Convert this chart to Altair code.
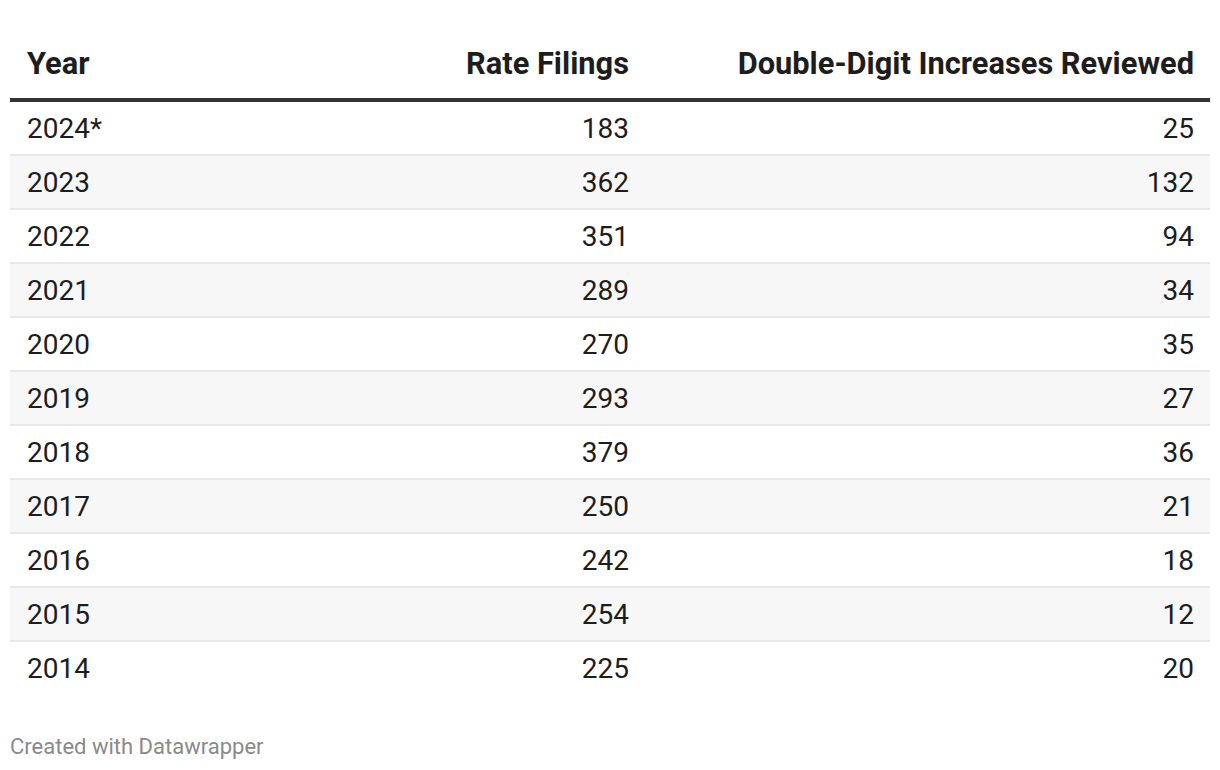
import altair as alt
import pandas as pd

years = ["2024*", "2023", "2022", "2021", "2020", "2019", "2018", "2017", "2016", "2015", "2014"]
rate_filings = [183, 362, 351, 289, 270, 293, 379, 250, 242, 254, 225]
double_digit = [25, 132, 94, 34, 35, 27, 36, 21, 18, 12, 20]
headers = ["Year", "Rate Filings", "Double-Digit Increases Reviewed"]
footer = "Created with Datawrapper"

df = pd.DataFrame({
    "year": years,
    "filings": rate_filings,
    "double": double_digit,
    "row": list(range(len(years))),
})

FONT = "Roboto"
yscale = alt.Scale(domain=[0, len(years)], range=[93, 687], nice=False, zero=False)

base = alt.Chart(df).transform_calculate(mid="datum.row + 0.5", end="datum.row + 1")

shade = base.transform_filter("datum.row % 2 == 1").mark_rect(color="#f7f7f7").encode(
    x=alt.value(2), x2=alt.value(1202),
    y=alt.Y("row:Q", scale=yscale, axis=None), y2="end:Q",
)

seps = base.transform_filter("datum.row > 0").mark_rule(color="#e2e2e2", strokeWidth=1.5).encode(
    x=alt.value(2), x2=alt.value(1202),
    y=alt.Y("row:Q", scale=yscale, axis=None),
)

txt = dict(baseline="middle", font=FONT, fontSize=28, color="#1d1d1d", dy=2)

year_text = base.mark_text(align="left", **txt).encode(
    x=alt.value(19), y=alt.Y("mid:Q", scale=yscale, axis=None), text="year:N"
)
filing_text = base.mark_text(align="right", **txt).encode(
    x=alt.value(621), y=alt.Y("mid:Q", scale=yscale, axis=None), text="filings:Q"
)
double_text = base.mark_text(align="right", **txt).encode(
    x=alt.value(1186), y=alt.Y("mid:Q", scale=yscale, axis=None), text="double:Q"
)

hdr = dict(baseline="middle", font=FONT, fontSize=30.8, fontWeight="bold", color="#1d1d1d")
hdf = pd.DataFrame({"h": headers})
h1 = alt.Chart(hdf).transform_filter(alt.datum.h == headers[0]).mark_text(align="left", **hdr).encode(
    x=alt.value(19), y=alt.value(57), text="h:N")
h2 = alt.Chart(hdf).transform_filter(alt.datum.h == headers[1]).mark_text(align="right", **hdr).encode(
    x=alt.value(621), y=alt.value(57), text="h:N")
h3 = alt.Chart(hdf).transform_filter(alt.datum.h == headers[2]).mark_text(align="right", **hdr).encode(
    x=alt.value(1186), y=alt.value(57), text="h:N")

header_line = alt.Chart(hdf).transform_filter(alt.datum.h == headers[0]).mark_rule(
    color="#333333", strokeWidth=4).encode(x=alt.value(2), x2=alt.value(1202), y=alt.value(92))

foot = alt.Chart(pd.DataFrame({"f": [footer]})).mark_text(
    align="left", baseline="middle", font=FONT, fontSize=22, color="#8a8a8a").encode(
    x=alt.value(2), y=alt.value(739), text="f:N")

chart = alt.layer(shade, seps, header_line, year_text, filing_text, double_text, h1, h2, h3, foot).properties(
    width=1204, height=754,
    autosize=alt.AutoSizeParams(type="none"),
    padding=0,
    background="white",
).configure_view(stroke=None)

chart.save("out.html", embed_options={"renderer": "svg", "actions": False})
